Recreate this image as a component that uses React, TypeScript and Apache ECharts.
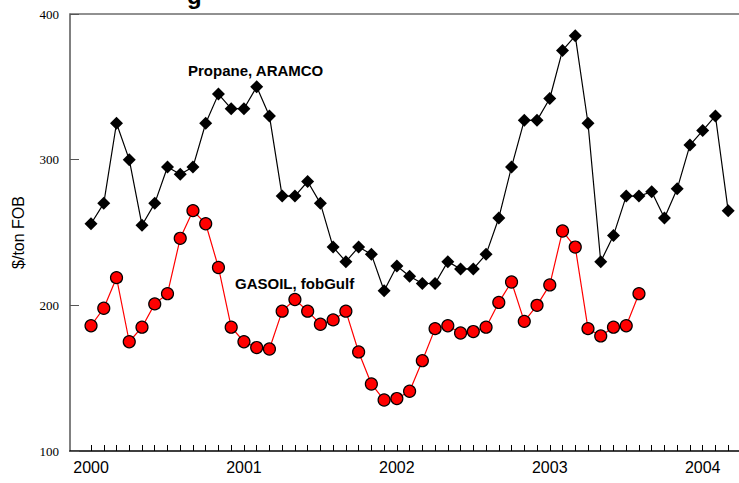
import React, { useEffect, useRef } from "react";
import * as echarts from "echarts";

const months = [
  "2000-01","2000-02","2000-03","2000-04","2000-05","2000-06","2000-07","2000-08","2000-09","2000-10","2000-11","2000-12",
  "2001-01","2001-02","2001-03","2001-04","2001-05","2001-06","2001-07","2001-08","2001-09","2001-10","2001-11","2001-12",
  "2002-01","2002-02","2002-03","2002-04","2002-05","2002-06","2002-07","2002-08","2002-09","2002-10","2002-11","2002-12",
  "2003-01","2003-02","2003-03","2003-04","2003-05","2003-06","2003-07","2003-08","2003-09","2003-10","2003-11","2003-12",
  "2004-01","2004-02","2004-03",
];

const propane = [
  256, 270, 325, 300, 255, 270, 295, 290, 295, 325, 345, 335,
  335, 350, 330, 275, 275, 285, 270, 240, 230, 240, 235, 210,
  227, 220, 215, 215, 230, 225, 225, 235, 260, 295, 327, 327,
  342, 375, 385, 325, 230, 248, 275, 275, 278, 260, 280, 310,
  320, 330, 265,
];

const gasoil = [
  186, 198, 219, 175, 185, 201, 208, 246, 265, 256, 226, 185,
  175, 171, 170, 196, 204, 196, 187, 190, 196, 168, 146, 135,
  136, 141, 162, 184, 186, 181, 182, 185, 202, 216, 189, 200,
  214, 251, 240, 184, 179, 185, 186, 208,
];

const yLabels = [100, 200, 300, 400];
const seriesNames = ["Propane, ARAMCO", "GASOIL, fobGulf"];

export default function App() {
  const ref = useRef<HTMLDivElement>(null);
  useEffect(() => {
    if (!ref.current) return;
    const chart = echarts.init(ref.current, null, { renderer: "svg" });
    const tickIdx = months.map((_, i) => i);
    const yearIdx = months.map((m, i) => (m.endsWith("-01") ? i : -1)).filter((i) => i >= 0);
    chart.setOption({
      animation: false,
      backgroundColor: "#fff",
      grid: { left: 70, right: 0, top: 14, bottom: 32, containLabel: false },
      xAxis: {
        type: "value",
        min: -1.65,
        max: 50.85,
        axisLine: { show: true, onZero: false, lineStyle: { color: "#000", width: 1.5 } },
        axisTick: {
          show: true,
          inside: true,
          length: 6,
          customValues: tickIdx,
          lineStyle: { color: "#000", width: 1 },
        },
        axisLabel: {
          customValues: yearIdx,
          formatter: (v: number) => months[Math.round(v)].slice(0, 4),
          fontSize: 16,
          fontFamily: "Liberation Sans",
          color: "#000",
          margin: 8,
        },
        splitLine: { show: false },
      },
      yAxis: {
        type: "value",
        min: yLabels[0],
        max: yLabels[yLabels.length - 1],
        interval: 100,
        name: "$/ton FOB",
        nameLocation: "middle",
        nameGap: 44,
        nameTextStyle: { fontSize: 16, fontFamily: "Liberation Sans", color: "#000" },
        axisLine: { show: true, onZero: false, lineStyle: { color: "#808080", width: 2 } },
        axisTick: { show: true, inside: true, length: 9, lineStyle: { color: "#555", width: 1 } },
        axisLabel: {
          fontSize: 13,
          fontFamily: "Liberation Serif",
          color: "#000",
          margin: 11,
        },
        splitLine: { show: false },
      },
      graphic: [
        {
          type: "line",
          shape: { x1: 70, y1: 14, x2: 739, y2: 14 },
          style: { stroke: "#222", lineWidth: 1 },
        },
        {
          type: "text",
          left: 187,
          top: -17,
          style: { text: "g", font: "bold 24px 'Liberation Sans'", fill: "#000" },
        },
        {
          type: "text",
          left: 188,
          top: 63,
          style: { text: seriesNames[0], font: "bold 15px 'Liberation Sans'", fill: "#000" },
        },
        {
          type: "text",
          left: 235,
          top: 276,
          style: { text: seriesNames[1], font: "bold 15px 'Liberation Sans'", fill: "#000" },
        },
      ],
      series: [
        {
          name: seriesNames[0],
          type: "line",
          data: propane.map((v, i) => [i, v]),
          symbol: "diamond",
          symbolSize: 13,
          itemStyle: { color: "#000" },
          lineStyle: { color: "#000", width: 1.2 },
          z: 2,
        },
        {
          name: seriesNames[1],
          type: "line",
          data: gasoil.map((v, i) => [i, v]),
          symbol: "circle",
          symbolSize: 12,
          itemStyle: { color: "#ff0000", borderColor: "#000", borderWidth: 1.2 },
          lineStyle: { color: "#ff0000", width: 1.2 },
          z: 3,
        },
      ],
    });
    return () => chart.dispose();
  }, []);
  return (
    <div
      ref={ref}
      style={{ position: "absolute", left: 0, top: 0, width: 739, height: 483 }}
    />
  );
}
